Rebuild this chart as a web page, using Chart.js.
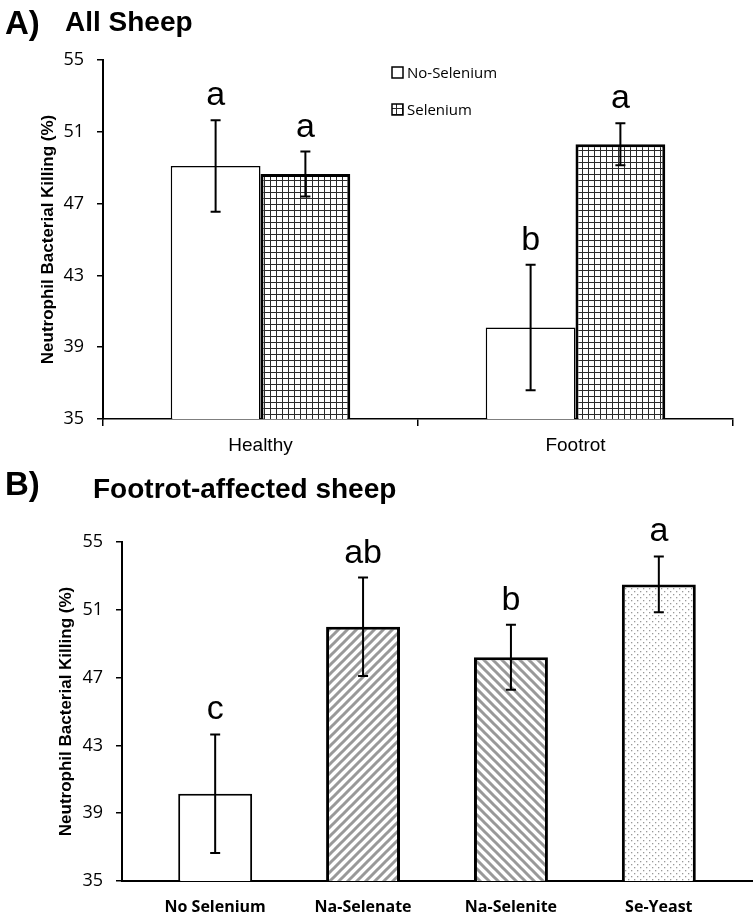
<!DOCTYPE html>
<html>
<head>
<meta charset="utf-8">
<script src="https://cdn.jsdelivr.net/npm/chart.js@4.4.0/dist/chart.umd.min.js"></script>
<style>
  body { margin: 0; background: #fff; width: 756px; height: 919px; overflow: hidden; }
  canvas { display: block; }
</style>
</head>
<body>
<canvas id="chartA" width="756" height="455"></canvas>
<canvas id="chartB" width="756" height="464"></canvas>
<script>
// panel A - all sheep
const groupsA = ['Healthy', 'Footrot']
const noSelenium = [49.1, 40.1]
const noSeleniumErr = [2.55, 3.5]
const selenium = [48.65, 50.3]
const seleniumErr = [1.25, 1.17]
const lettersNoSe = ['a', 'b']
const lettersSe = ['a', 'a']

// panel B - footrot-affected sheep
const treatments = ['No Selenium', 'Na-Selenate', 'Na-Selenite', 'Se-Yeast']
const killing = [40.15, 50.0, 48.2, 52.5]
const killingErr = [3.5, 2.9, 1.92, 1.65]
const lettersB = ['c', 'ab', 'b', 'a']

const yTicks = [35, 39, 43, 47, 51, 55]
const yTitle = 'Neutrophil Bacterial Killing (%)'

function makePattern(size, draw) {
  const c = document.createElement('canvas')
  c.width = c.height = size
  const g = c.getContext('2d')
  g.fillStyle = '#fff'
  g.fillRect(0, 0, size, size)
  draw(g, size)
  return g.createPattern(c, 'repeat')
}

const gridFill = makePattern(6, (g, s) => {
  g.fillStyle = '#2a2a2a'
  g.fillRect(0, 0, s, 1)
  g.fillRect(0, 0, 1, s)
})
const hatchUp = makePattern(9, (g, s) => {
  g.strokeStyle = '#999'
  g.lineWidth = 3
  g.beginPath()
  g.moveTo(-1, s + 1); g.lineTo(s + 1, -1)
  g.moveTo(-2, 2); g.lineTo(2, -2)
  g.moveTo(s - 2, s + 2); g.lineTo(s + 2, s - 2)
  g.stroke()
})
const hatchDown = makePattern(9, (g, s) => {
  g.strokeStyle = '#999'
  g.lineWidth = 3
  g.beginPath()
  g.moveTo(-1, -1); g.lineTo(s + 1, s + 1)
  g.moveTo(s - 2, -2); g.lineTo(s + 2, 2)
  g.moveTo(-2, s - 2); g.lineTo(2, s + 2)
  g.stroke()
})
const dotFill = makePattern(6, (g, s) => {
  g.fillStyle = '#999'
  g.fillRect(1, 1, 1.3, 1.3)
  g.fillRect(4, 4, 1.3, 1.3)
})

// error bars + significance letters
const errorBars = {
  id: 'errorBars',
  afterDatasetsDraw(chart) {
    const ctx = chart.ctx
    const y = chart.scales.y
    chart.data.datasets.forEach((ds, i) => {
      const meta = chart.getDatasetMeta(i)
      meta.data.forEach((bar, j) => {
        const d = ds.data[j]
        const v = typeof d === 'object' ? d.y : d
        const hi = y.getPixelForValue(v + ds.errors[j])
        const lo = y.getPixelForValue(v - ds.errors[j])
        ctx.save()
        ctx.strokeStyle = '#000'
        ctx.lineWidth = 2
        ctx.beginPath()
        ctx.moveTo(bar.x, hi); ctx.lineTo(bar.x, lo)
        ctx.moveTo(bar.x - 5, hi); ctx.lineTo(bar.x + 5, hi)
        ctx.moveTo(bar.x - 5, lo); ctx.lineTo(bar.x + 5, lo)
        ctx.stroke()
        ctx.fillStyle = '#000'
        ctx.font = '34px "Liberation Sans", Arial'
        ctx.textAlign = 'center'
        ctx.textBaseline = 'alphabetic'
        ctx.fillText(ds.letters[j], bar.x, hi - 15)
        ctx.restore()
      })
    })
  }
}

function panelTitles(tag, text, yTag, yText, xText) {
  return {
    id: 'panelTitles',
    afterDraw(chart) {
      const ctx = chart.ctx
      ctx.save()
      ctx.fillStyle = '#000'
      ctx.textBaseline = 'alphabetic'
      ctx.textAlign = 'left'
      ctx.font = 'bold 33px "Liberation Sans", Arial'
      ctx.fillText(tag, 5, yTag)
      ctx.font = 'bold 28px "Liberation Sans", Arial'
      ctx.fillText(text, xText, yText)
      ctx.restore()
    }
  }
}

const legendA = {
  id: 'legendA',
  afterDraw(chart) {
    const ctx = chart.ctx
    ctx.save()
    chart.data.datasets.forEach((ds, i) => {
      const top = 67 + i * 37
      ctx.fillStyle = ds.backgroundColor
      ctx.fillRect(392, top, 11, 11)
      ctx.strokeStyle = '#000'
      ctx.lineWidth = 1.5
      ctx.strokeRect(392, top, 11, 11)
      ctx.fillStyle = '#000'
      ctx.font = '15px "Open Sans"'
      ctx.textAlign = 'left'
      ctx.textBaseline = 'alphabetic'
      ctx.fillText(ds.label, 407, top + 11)
    })
    ctx.restore()
  }
}

function yAxis(width, titlePad) {
  return {
    min: 35,
    max: 55,
    afterBuildTicks: s => { s.ticks = yTicks.map(v => ({ value: v })) },
    afterFit: s => { s.width = width },
    border: { color: '#000', width: 2 },
    grid: { drawOnChartArea: false, tickLength: 6, color: '#000', lineWidth: 1.5 },
    ticks: { color: '#000', padding: 13, font: { family: 'Open Sans', size: 18 } },
    title: {
      display: true, text: yTitle, color: '#000',
      font: { family: 'Liberation Sans', size: 17, weight: 'bold' },
      padding: { top: titlePad, bottom: 0 }
    }
  }
}

Chart.defaults.animation = false

new Chart(document.getElementById('chartA'), {
  type: 'bar',
  data: {
    labels: groupsA,
    datasets: [
      {
        label: 'No-Selenium', data: noSelenium, errors: noSeleniumErr, letters: lettersNoSe,
        backgroundColor: '#fff', borderColor: '#000', borderWidth: 1.5, borderSkipped: false
      },
      {
        label: 'Selenium', data: selenium, errors: seleniumErr, letters: lettersSe,
        backgroundColor: gridFill, borderColor: '#000', borderWidth: 3, borderSkipped: false
      }
    ]
  },
  options: {
    responsive: false,
    categoryPercentage: 0.57,
    barPercentage: 1,
    layout: { padding: { left: 0, right: 23, top: 60, bottom: 0 } },
    plugins: { legend: { display: false }, tooltip: { enabled: false } },
    scales: {
      x: {
        afterFit: s => { s.height = 36 },
        border: { color: '#000', width: 1.5 },
        grid: { drawOnChartArea: false, offset: true, tickLength: 7, color: '#000', lineWidth: 1.5 },
        ticks: { color: '#000', padding: 8, font: { family: 'Liberation Sans', size: 19 } }
      },
      y: yAxis(103, 38)
    }
  },
  plugins: [errorBars, legendA, panelTitles('A)', 'All Sheep', 34, 31, 65)]
})

new Chart(document.getElementById('chartB'), {
  type: 'bar',
  data: {
    datasets: [
      {
        label: 'Footrot-affected sheep',
        data: killing.map((v, i) => ({ x: i, y: v })),
        errors: killingErr, letters: lettersB,
        backgroundColor: ['#fff', hatchUp, hatchDown, dotFill],
        borderColor: '#000', borderWidth: [2, 3, 3, 3], borderSkipped: false
      }
    ]
  },
  options: {
    responsive: false,
    categoryPercentage: 0.5,
    barPercentage: 1,
    layout: { padding: { left: 0, right: 4, top: 87, bottom: 0 } },
    plugins: { legend: { display: false }, tooltip: { enabled: false } },
    scales: {
      x: {
        type: 'linear',
        offset: false,
        min: -0.63,
        max: 3.63,
        afterBuildTicks: s => { s.ticks = treatments.map((t, i) => ({ value: i })) },
        afterFit: s => { s.height = 38 },
        border: { color: '#000', width: 2 },
        grid: { display: false },
        ticks: {
          color: '#000', padding: 9, autoSkip: false, maxRotation: 0,
          callback: v => treatments[v],
          font: { family: 'Open Sans', size: 16, weight: 'bold' }
        }
      },
      y: yAxis(122, 56)
    }
  },
  plugins: [errorBars, panelTitles('B)', 'Footrot-affected sheep', 40, 43, 93)]
})
</script>
</body>
</html>
